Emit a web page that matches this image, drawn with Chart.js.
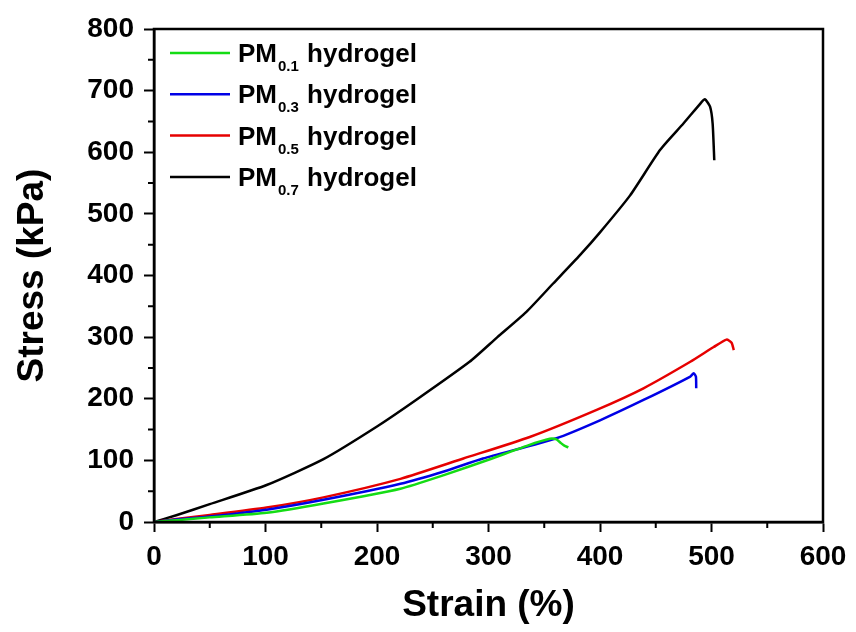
<!DOCTYPE html>
<html>
<head>
<meta charset="utf-8">
<script src="https://cdn.jsdelivr.net/npm/chart.js@4.4.1/dist/chart.umd.min.js"></script>
<style>
  html, body { margin: 0; padding: 0; background: #ffffff; }
  #wrap { width: 856px; height: 632px; position: relative; }
</style>
</head>
<body>
<div id="wrap"><canvas id="c" width="856" height="632"></canvas></div>
<script>
// ---- data ----
const seriesNames = ['PM', 'PM', 'PM', 'PM'];
const seriesSubs = ['0.1', '0.3', '0.5', '0.7'];
const seriesSuffix = ' hydrogel';

const pm01Strain = [0, 20, 50, 101, 152, 221, 260, 300, 335, 355, 361, 365, 368, 371.6];
const pm01Stress = [0, 3, 7.5, 15, 30, 54, 76, 101, 124, 135, 134, 128, 124, 121];

const pm03Strain = [0, 20, 50, 101, 152, 221, 260, 295, 361, 400, 439, 481, 484, 486, 486.3];
const pm03Stress = [0, 4, 9, 20, 36, 62, 82, 103, 136, 165, 198, 236, 241.5, 236, 217];

const pm05Strain = [0, 20, 50, 101, 152, 221, 277.5, 337, 397, 439, 481, 502, 513.5, 518, 520];
const pm05Stress = [0, 5, 11.5, 23.5, 40, 70, 103, 138, 182, 217, 260, 284, 296, 291, 279];

const pm07Strain = [0, 20, 50, 101, 152, 200, 235, 283, 308, 334, 358, 382, 400, 427, 454, 475, 490, 494, 498.7, 501, 502.5];
const pm07Stress = [0, 11, 29, 60, 102, 155, 198, 260, 300, 341, 387, 433, 470, 530, 604, 647, 679, 686, 674, 647, 587];

const xTicks = [0, 100, 200, 300, 400, 500, 600];
const yTicks = [0, 100, 200, 300, 400, 500, 600, 700, 800];
const xMinor = [50, 150, 250, 350, 450, 550];
const yMinor = [50, 150, 250, 350, 450, 550, 650, 750];

const colors = ['#14dc14', '#0000e6', '#e60000', '#000000'];

function pts(xs, ys) { return xs.map((x, i) => ({ x: x, y: ys[i] })); }

const FONT = '"Liberation Sans", Arial, Helvetica, sans-serif';

const frameAndLegend = {
  id: 'frameAndLegend',
  afterDraw(chart) {
    const ctx = chart.ctx;
    const a = chart.chartArea;
    const xs = chart.scales.x, ys = chart.scales.y;
    ctx.save();
    ctx.strokeStyle = '#000';
    ctx.lineWidth = 2.5;
    ctx.strokeRect(a.left, a.top, a.right - a.left, a.bottom - a.top);
    // minor ticks
    ctx.lineWidth = 2;
    ctx.beginPath();
    xMinor.forEach(v => {
      const p = xs.getPixelForValue(v);
      ctx.moveTo(p, a.bottom); ctx.lineTo(p, a.bottom + 6);
    });
    yMinor.forEach(v => {
      const p = ys.getPixelForValue(v);
      ctx.moveTo(a.left, p); ctx.lineTo(a.left - 6, p);
    });
    ctx.stroke();
    // legend
    const x0 = 170, x1 = 230, tx = 238, y0 = 53, dy = 41.3;
    chart.data.datasets.forEach((ds, i) => {
      const ly = y0 + i * dy;
      ctx.strokeStyle = ds.borderColor;
      ctx.lineWidth = 2.5;
      ctx.beginPath(); ctx.moveTo(x0, ly); ctx.lineTo(x1, ly); ctx.stroke();
      ctx.fillStyle = '#000';
      ctx.textBaseline = 'alphabetic';
      ctx.textAlign = 'left';
      const base = ly + 9;
      ctx.font = 'bold 26px ' + FONT;
      ctx.fillText(seriesNames[i], tx, base);
      const w1 = ctx.measureText(seriesNames[i]).width;
      ctx.font = 'bold 15px ' + FONT;
      ctx.fillText(seriesSubs[i], tx + w1 + 1, base + 9);
      const w2 = ctx.measureText(seriesSubs[i]).width;
      ctx.font = 'bold 26px ' + FONT;
      ctx.fillText(seriesSuffix, tx + w1 + w2 + 2, base);
    });
    ctx.restore();
  }
};

const mk = (xs, ys, i) => ({
  data: pts(xs, ys),
  borderColor: colors[i],
  backgroundColor: colors[i],
  borderWidth: 2.5,
  showLine: true,
  pointRadius: 0,
  tension: 0.2,
  fill: false
});

new Chart(document.getElementById('c'), {
  type: 'scatter',
  data: {
    datasets: [
      mk(pm01Strain, pm01Stress, 0),
      mk(pm03Strain, pm03Stress, 1),
      mk(pm05Strain, pm05Stress, 2),
      mk(pm07Strain, pm07Stress, 3)
    ]
  },
  options: {
    responsive: false,
    animation: false,
    devicePixelRatio: 1,
    layout: { padding: { left: 0, right: 33, top: 29, bottom: 0 } },
    plugins: { legend: { display: false }, tooltip: { enabled: false } },
    scales: {
      x: {
        type: 'linear', min: 0, max: 600,
        afterBuildTicks: s => { s.ticks = xTicks.map(v => ({ value: v })); },
        afterFit: s => { s.height = 110; },
        grid: { drawOnChartArea: false, drawTicks: true, tickLength: 10, tickWidth: 2, tickColor: '#000', color: '#000' },
        border: { display: true, color: '#000', width: 2.5 },
        ticks: { color: '#000', padding: 8, font: { family: FONT, size: 28, weight: 'bold' }, maxRotation: 0 },
        title: { display: true, text: 'Strain (%)', color: '#000', padding: { top: 0, bottom: 4 }, font: { family: FONT, size: 37, weight: 'bold' } }
      },
      y: {
        type: 'linear', min: 0, max: 800,
        afterBuildTicks: s => { s.ticks = yTicks.map(v => ({ value: v })); },
        afterFit: s => { s.width = 154; },
        grid: { drawOnChartArea: false, drawTicks: true, tickLength: 10, tickWidth: 2, tickColor: '#000', color: '#000' },
        border: { display: true, color: '#000', width: 2.5 },
        ticks: { color: '#000', padding: 10, font: { family: FONT, size: 28, weight: 'bold' } },
        title: { display: true, text: 'Stress (kPa)', color: '#000', padding: { top: 11, bottom: 0 }, font: { family: FONT, size: 37, weight: 'bold' } }
      }
    }
  },
  plugins: [frameAndLegend]
});
</script>
</body>
</html>
